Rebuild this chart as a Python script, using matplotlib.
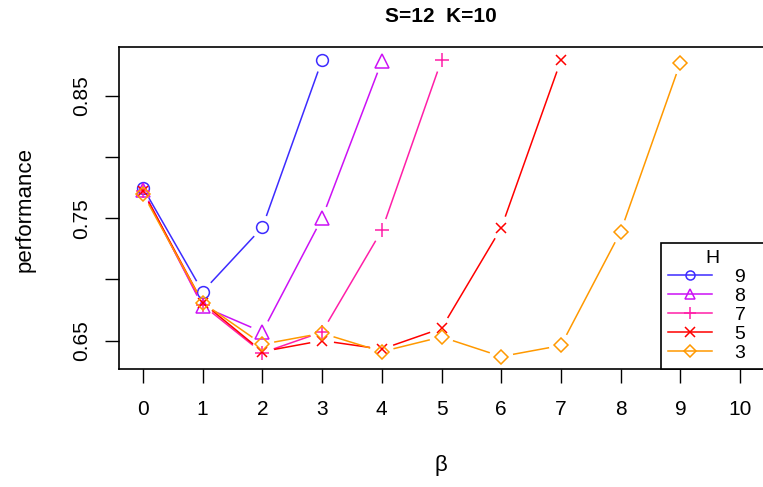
import numpy as np
import matplotlib
matplotlib.use("Agg")
import matplotlib.pyplot as plt

plt.rcParams['font.family'] = ['Liberation Sans', 'DejaVu Sans']

# data
beta = [0, 1, 2, 3, 4, 5, 6, 7, 8, 9]
h_labels = ['9', '8', '7', '5', '3']
perf_h9 = [0.775, 0.690, 0.7425, 0.879]
perf_h8 = [0.773, 0.678, 0.657, 0.750, 0.878]
perf_h7 = [0.772, 0.679, 0.640, 0.657, 0.740, 0.879]
perf_h5 = [0.772, 0.681, 0.641, 0.650, 0.643, 0.660, 0.742, 0.879]
perf_h3 = [0.770, 0.681, 0.647, 0.656, 0.641, 0.653, 0.637, 0.646, 0.739, 0.877]

series = [perf_h9, perf_h8, perf_h7, perf_h5, perf_h3]
colors = ['#3D2BFF', '#CC11F5', '#FF1FA8', '#FF0000', '#FF9900']
markers = ['o', '^', '+', 'x', 'D']
msizes = [8.5, 9.5, 10, 7.5, 7.5]
leg_sizes = [6.5, 7.5, 9, 6.5, 6.5]

W, H = 763, 487
fig = plt.figure(figsize=(W / 100, H / 100), dpi=100)
ax = fig.add_axes([119 / W, 118 / H, 645 / W, 322 / H])
ax.set_xlim(-0.4, 10.4)
ax.set_ylim(0.6268, 0.8898)

gap = 12  # pixels left empty round each point (R type="b")
trans = ax.transData
inv = trans.inverted()

for vals, c, m, ms, lms, lab in zip(series, colors, markers, msizes, leg_sizes, h_labels):
    xs = beta[:len(vals)]
    pts = trans.transform(np.column_stack([xs, vals]))
    for p0, p1 in zip(pts[:-1], pts[1:]):
        d = p1 - p0
        L = np.hypot(*d)
        if L <= 2 * gap:
            continue
        u = d / L
        seg = inv.transform(np.vstack([p0 + u * gap, p1 - u * gap]))
        ax.plot(seg[:, 0], seg[:, 1], color=c, lw=1.1, solid_capstyle='butt')
    ax.plot(xs, vals, linestyle='none', marker=m, markersize=ms,
            markerfacecolor='none', markeredgecolor=c, markeredgewidth=1.1)
    # legend handle only (trailing spaces widen the box like R does)
    ax.plot([], [], color=c, lw=1.1, marker=m, markersize=lms,
            markerfacecolor='none', markeredgecolor=c, markeredgewidth=1.1,
            label=lab + '  ')

ax.set_xticks(range(0, 11))
ax.set_yticks([0.65, 0.70, 0.75, 0.80, 0.85])
ax.set_yticklabels(['0.65', '', '0.75', '', '0.85'], rotation=90, va='center')
ax.tick_params(axis='both', labelsize=15, length=10, width=1.0)
ax.tick_params(axis='x', pad=12.5)
ax.tick_params(axis='y', pad=10)
for s in ax.spines.values():
    s.set_linewidth(1.2)

fig.text(441 / W, 1 - 465 / H, 'β', ha='center', va='center', fontsize=16)
fig.text(25 / W, 1 - 209 / H, 'performance', ha='center', va='center',
         rotation=90, fontsize=16)
fig.text(441 / W, 1 - 17 / H, 'S=12  K=10', ha='center', va='center',
         fontsize=15, fontweight='bold')

leg = ax.legend(title='H', loc='lower right', bbox_to_anchor=(1.0, 0),
                fontsize=14, title_fontsize=14,
                frameon=True, fancybox=False, edgecolor='black', framealpha=1,
                handlelength=2.3, handletextpad=1.18, labelspacing=0.07,
                borderpad=0.36, borderaxespad=0)
leg.get_frame().set_linewidth(1.2)

fig.savefig('out.png', dpi=100)
